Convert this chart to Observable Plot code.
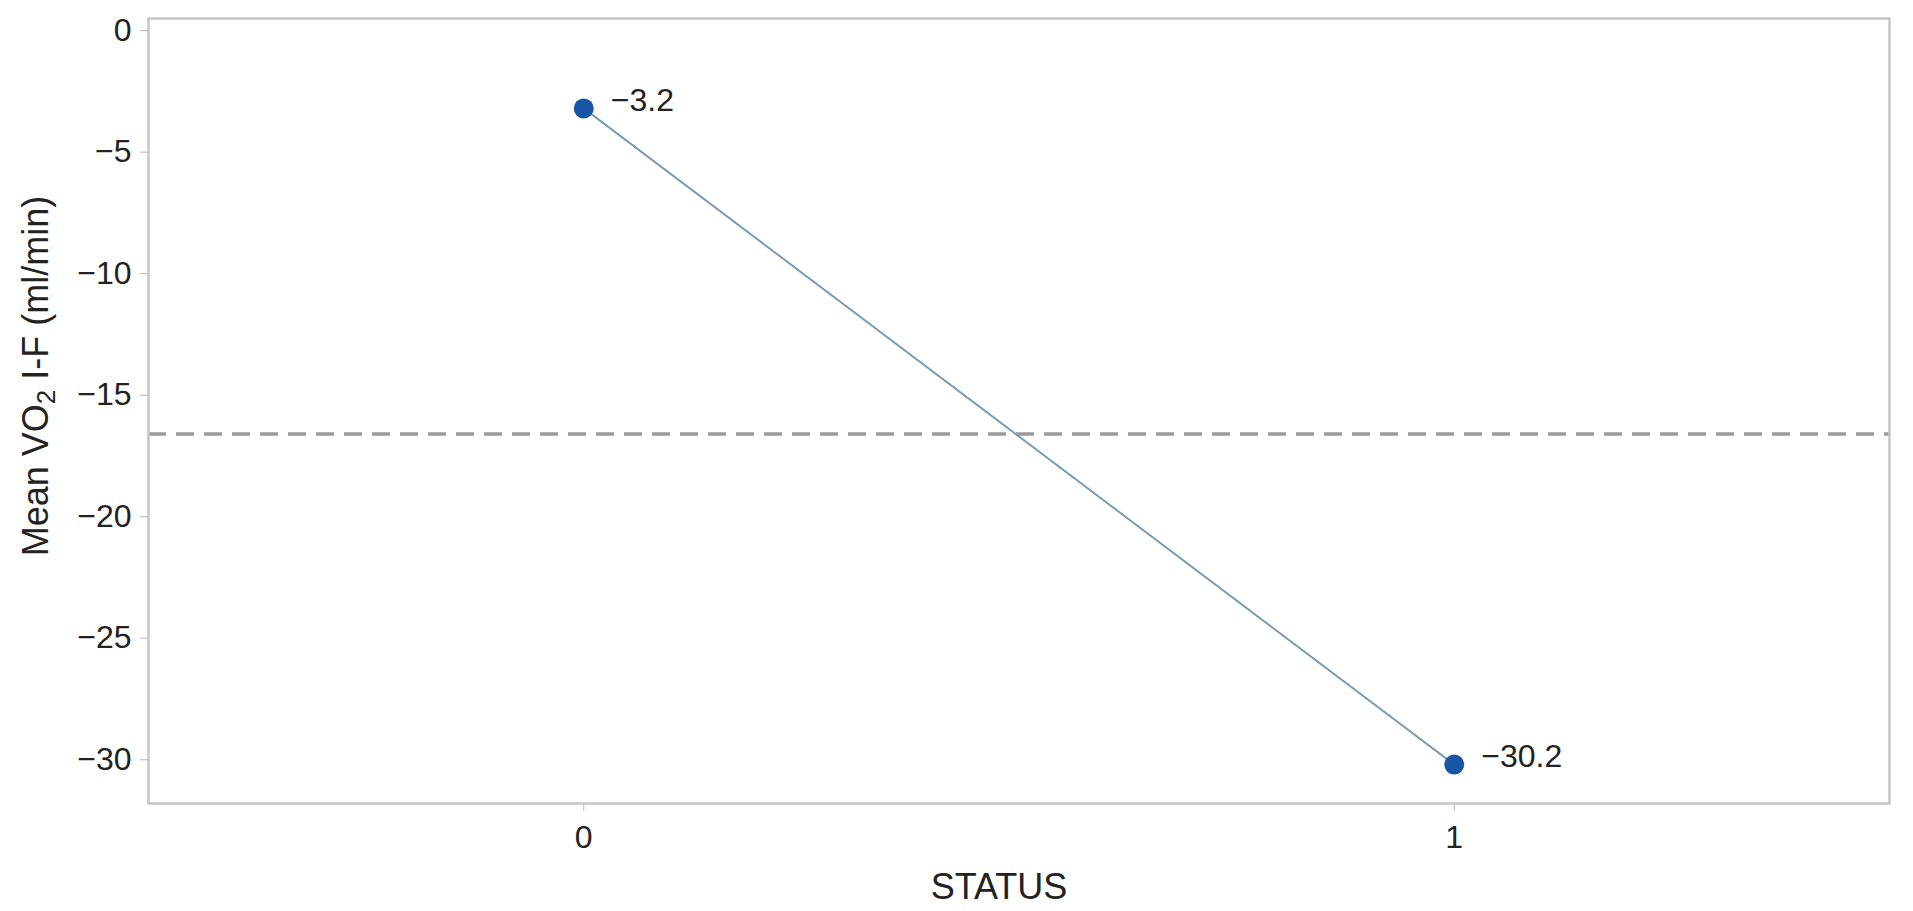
<!DOCTYPE html>
<html>
<head>
<meta charset="utf-8">
<script src="https://cdn.jsdelivr.net/npm/d3@7"></script>
<script src="https://cdn.jsdelivr.net/npm/@observablehq/plot@0.6"></script>
<style>
  html, body { margin: 0; padding: 0; background: #fff; }
  #chart svg { display: block; }
</style>
</head>
<body>
<div id="chart"></div>
<script>
const status = [0, 1];
const meanVO2 = [-3.2, -30.2];
const valueLabels = ["\u22123.2", "\u221230.2"];
const refMean = [-16.6];
const yTicks = [0, -5, -10, -15, -20, -25, -30];
const xTicks = [0, 1];
const xLabel = "STATUS";
const yLabel = "Mean VO2 I-F (ml/min)";

const data = status.map((s, i) => ({status: s, value: meanVO2[i], label: valueLabels[i]}));

const font = "'Liberation Sans', Arial, Helvetica, sans-serif";
const fs = 32;
const fsLabel = 36;

const plot = Plot.plot({
  width: 1913,
  height: 911,
  marginLeft: 148,
  marginRight: 24,
  marginTop: 18,
  marginBottom: 108,
  style: {fontFamily: font, fontSize: fs + "px", color: "#222", background: "#fff"},
  x: {domain: [-0.5, 1.5], label: null},
  y: {domain: [-31.8, 0.5], label: null},
  marks: [
    Plot.ruleY(refMean, {stroke: "#999999", strokeWidth: 3.5, strokeDasharray: "18,10"}),
    Plot.line(data, {x: "status", y: "value", stroke: "#7b9cb6", strokeWidth: 2}),
    Plot.dot(data, {x: "status", y: "value", r: 10, fill: "#1656a4", stroke: "none"}),
    Plot.text(data, {x: "status", y: "value", text: "label", textAnchor: "start", dx: 27, dy: -8, fill: "#222", fontSize: fs}),
    Plot.axisY({ticks: yTicks, tickFormat: d => d < 0 ? "\u2212" + Math.abs(d) : String(d), tickSize: 8, tickPadding: 9, stroke: "#b5b5b5", fill: "#222", label: null, fontSize: fs}),
    Plot.axisX({ticks: xTicks, tickFormat: d => String(d), tickSize: 8, tickPadding: 14, stroke: "#b5b5b5", fill: "#222", label: null, fontSize: fs}),
    Plot.text([xLabel], {frameAnchor: "bottom", dx: -20, dy: 84, text: d => d, fill: "#222", fontSize: fsLabel, lineAnchor: "middle"}),
    Plot.text([yLabel], {frameAnchor: "left", dx: -112, dy: -35, rotate: -90, text: d => d, fill: "#222", fontSize: fsLabel, lineAnchor: "middle", textAnchor: "middle"}),
    Plot.frame({stroke: "#c6c6c6", strokeWidth: 2.5})
  ]
});

document.getElementById("chart").appendChild(plot);

// Render the "2" of VO2 as a subscript
d3.select(plot).selectAll("text").each(function() {
  const t = d3.select(this);
  if (t.text() === yLabel) {
    t.text(null);
    t.append("tspan").text("Mean VO");
    t.append("tspan").attr("baseline-shift", "-25%").attr("font-size", "26px").text("2");
    t.append("tspan").text(" I-F (ml/min)");
  }
});
</script>
</body>
</html>
